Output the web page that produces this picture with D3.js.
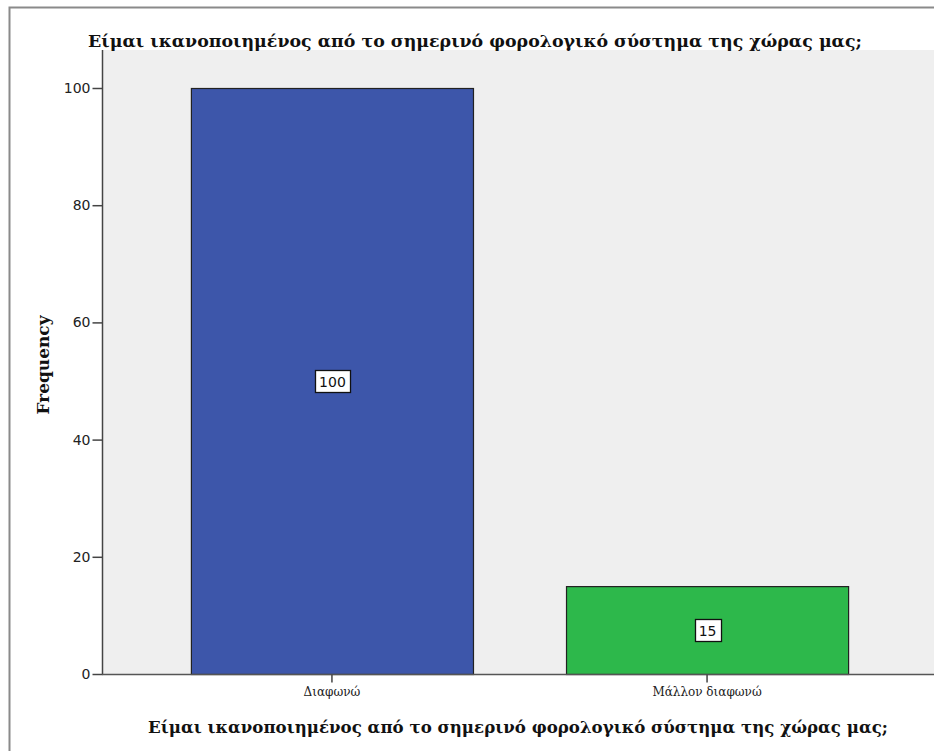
<!DOCTYPE html>
<html><head><meta charset="utf-8">
<script src="https://cdn.jsdelivr.net/npm/d3@7"></script>
<style>body{margin:0;background:#fff;overflow:hidden}</style>
</head><body>
<script>
const title = "Είμαι ικανοποιημένος από το σημερινό φορολογικό σύστημα της χώρας μας;";
const categories = ["Διαφωνώ", "Μάλλον διαφωνώ"];
const frequencies = [100, 15];
const barColors = ["#3d56aa", "#2db84b"];
const yTicks = [0, 20, 40, 60, 80, 100];

(function(){
const W = 934, H = 751;
const svg = d3.select("body").append("svg").attr("width", W).attr("height", H);
svg.append("rect").attr("width", W).attr("height", H).attr("fill", "#fff");
// outer frame
svg.append("path").attr("d", `M9.5,${H} V7.5 H${W}`).attr("fill","none").attr("stroke","#8a8a8a").attr("stroke-width",2);

const pL = 102, pR = 937, pT = 50, pB = 674;
const x = d3.scaleBand().domain(categories).range([pL, pR]).paddingInner(0.248).paddingOuter(0.237);
const y = d3.scaleLinear().domain([0, 100]).range([pB, 88]);

svg.append("rect").attr("x", pL).attr("y", pT).attr("width", pR-pL).attr("height", pB-pT).attr("fill", "#efefef");

svg.selectAll("rect.bar").data(frequencies).enter().append("rect")
  .attr("class","bar")
  .attr("x", (d,i)=>x(categories[i])+0.5)
  .attr("y", d=>y(d)+0.5)
  .attr("width", x.bandwidth())
  .attr("height", d=>y(0)-y(d))
  .attr("fill", (d,i)=>barColors[i])
  .attr("stroke", "#222").attr("stroke-width", 1.2);

// value labels
frequencies.forEach((d,i)=>{
  const cx = x(categories[i]) + x.bandwidth()/2 + 0.5;
  const cy = (y(d)+y(0))/2;
  const g = svg.append("g");
  const t = g.append("text").attr("x", cx).attr("y", cy+5.5).attr("text-anchor","middle")
    .attr("font-family","'DejaVu Sans', sans-serif").attr("font-size",14).attr("fill","#111").text(d);
  const bb = t.node().getBBox();
  g.insert("rect","text").attr("x", Math.round(bb.x-4)+0.5).attr("y", Math.round(cy-11)+0.5)
    .attr("width", Math.round(bb.width+8)).attr("height", 22)
    .attr("fill","#fff").attr("stroke","#111").attr("stroke-width",1.3);
});

// y axis
const yAxis = svg.append("g").attr("transform", `translate(${pL+0.5},0)`)
  .call(d3.axisLeft(y).tickValues(yTicks).tickSize(10).tickPadding(2));
yAxis.select(".domain").attr("d", `M0,${pT}V${pB+0.5}`).attr("stroke","#444").attr("stroke-width",1.5);
yAxis.selectAll(".tick line").attr("stroke","#444").attr("stroke-width",1.5);
yAxis.selectAll(".tick text").attr("font-family","'DejaVu Sans', sans-serif").attr("font-size",14).attr("fill","#222");

// x axis
const xAxis = svg.append("g").attr("transform", `translate(0,${pB+0.5})`)
  .call(d3.axisBottom(x).tickSize(8).tickPadding(5));
xAxis.select(".domain").attr("d", `M${pL},0H${W}`).attr("stroke","#555").attr("stroke-width",1.5);
xAxis.selectAll(".tick line").attr("stroke","#444").attr("stroke-width",1.5);
xAxis.selectAll(".tick text").attr("font-family","'DejaVu Serif', serif").attr("font-size",12).attr("fill","#222");

// titles
svg.append("text").attr("x", 475).attr("y", 47).attr("text-anchor","middle")
  .attr("font-family","'DejaVu Serif', serif").attr("font-weight","bold").attr("font-size",17)
  .attr("textLength", 774).attr("lengthAdjust","spacingAndGlyphs").attr("fill","#111").text(title);
svg.append("text").attr("x", 518).attr("y", 733).attr("text-anchor","middle")
  .attr("font-family","'DejaVu Serif', serif").attr("font-weight","bold").attr("font-size",17)
  .attr("textLength", 740).attr("lengthAdjust","spacingAndGlyphs").attr("fill","#111").text(title);
svg.append("text").attr("transform", `translate(49,365) rotate(-90)`).attr("text-anchor","middle")
  .attr("font-family","'DejaVu Serif', serif").attr("font-weight","bold").attr("font-size",17)
  .attr("fill","#111").text("Frequency");
})();
</script>
</body></html>
